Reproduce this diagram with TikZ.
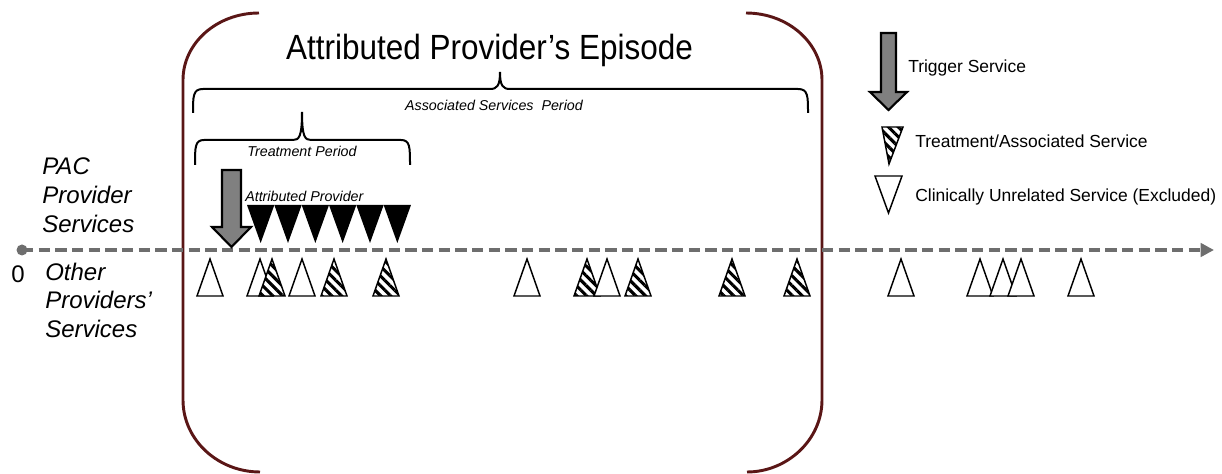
\documentclass[tikz,border=0pt]{standalone}
\usepackage{fontspec}
\setmainfont{Liberation Sans}
\newfontfamily\titlefont[FakeStretch=0.9]{Liberation Sans}
\usetikzlibrary{arrows.meta,patterns.meta}
\definecolor{maroon}{HTML}{5A1616}
\definecolor{axisgray}{HTML}{6E6E6E}
\definecolor{arrowgray}{HTML}{808080}
\tikzset{
  episode/.style={draw=maroon,line width=2.2pt},
  brace/.style={draw=black,line width=1.5pt},
  tri/.style={draw=black,line width=1.1pt,line join=miter},
  hatchtri/.style={tri,preaction={fill=white},pattern={Lines[angle=-45,distance=5.2pt,line width=2.3pt]},pattern color=black},
  blockarrow/.style={draw=black,line width=1.6pt,fill=arrowgray,line join=miter},
  legendtxt/.style={font=\fontsize{13.1pt}{15pt}\selectfont,anchor=base west,inner sep=0pt},
  smallit/.style={font=\fontsize{10.7pt}{12pt}\selectfont\itshape,inner sep=0pt},
  sidelbl/.style={font=\fontsize{18pt}{21.75pt}\selectfont\itshape,align=left,anchor=base west,inner sep=0pt},
}
\newcommand\WhiteTri[1]{\draw[tri,fill=white] (#1-13,296) -- (#1,259) -- (#1+13,296) -- cycle;}
\newcommand\HatchTri[1]{\path[hatchtri] (#1-13,296) -- (#1,259) -- (#1+13,296) -- cycle;}
\begin{document}
\begin{tikzpicture}[x=0.75pt,y=-0.75pt]
\useasboundingbox (0,0) rectangle (1222,474);

% episode bracket
\draw[episode] (259,13) .. controls (217,13) and (183,43) .. (183,80) -- (183,400) .. controls (183,440) and (218,472) .. (260,472);
\draw[episode] (746,13) .. controls (788,13) and (822,43) .. (822,80) -- (822,400) .. controls (822,440) and (787,472) .. (747,472);

\node[font=\titlefont\fontsize{26.25pt}{30pt}\selectfont,anchor=base,inner sep=0pt] (title) at (489.5,60) {Attributed Provider’s Episode};

% associated services brace
\draw[brace] (193,113) .. controls (193,96) and (193,89) .. (203,89) -- (490,89) .. controls (497,89) and (500,86) .. (500,72) .. controls (500,86) and (503,89) .. (510,89) -- (798,89) .. controls (808,89) and (808,96) .. (808,113);
\node[smallit,anchor=base] (asp) at (494,111) {Associated Services\ \ Period};

% treatment brace
\draw[brace] (195,165) .. controls (195,147) and (195,140) .. (204,140) -- (293,140) .. controls (299,140) and (302,137) .. (302,112) .. controls (302,137) and (305,140) .. (311,140) -- (401,140) .. controls (410,140) and (410,147) .. (410,165);
\node[smallit,anchor=base] (tp) at (302,157) {Treatment Period};

% side labels
\node[sidelbl] (pac) at (42,233) {PAC\\Provider\\Services};
\node[sidelbl] (other) at (45,338) {Other\\Providers’\\Services};
\node[font=\fontsize{18pt}{20pt}\selectfont,anchor=base west,inner sep=0pt] (zero) at (11,282) {0};

% axis
\coordinate (axstart) at (22,250);
\coordinate (axend) at (1214,250);
\draw[axisgray,line width=3pt,dash pattern=on 8.5pt off 4pt,-{Triangle[length=10pt,width=10pt]}] (axstart) -- (axend);
\fill[axisgray] (axstart) circle (5.5);

% attributed provider services
\node[smallit,anchor=base west] (ap) at (245,202) {Attributed Provider};
\foreach \i in {0,...,5}{
  \fill[black] ({247+27.33*\i},205) -- ({247+27.33*(\i+1)},205) -- ({247+27.33*\i+13.67},243) -- cycle;
}

% trigger arrow
\draw[blockarrow] (222,170) -- (241,170) -- (241,227) -- (251,227) -- (231.5,247) -- (212,227) -- (222,227) -- cycle;

% other providers' services
\WhiteTri{210}
\WhiteTri{260}
\HatchTri{272}
\WhiteTri{302}
\HatchTri{334}
\HatchTri{386}
\WhiteTri{527}
\HatchTri{587}
\WhiteTri{607}
\HatchTri{638}
\HatchTri{732}
\HatchTri{797}
\WhiteTri{901}
\WhiteTri{980}
\WhiteTri{1003}
\WhiteTri{1021}
\WhiteTri{1081}

% legend
\draw[blockarrow] (881,33) -- (896,33) -- (896,92) -- (907,92) -- (888.5,110) -- (870,92) -- (881,92) -- cycle;
\node[legendtxt] (lg1) at (908,73) {Trigger Service};
\path[hatchtri] (882,127) -- (903,127) -- (889,164) -- cycle;
\node[legendtxt] (lg2) at (915,148) {Treatment/Associated Service};
\draw[tri,fill=white] (875,176) -- (902,176) -- (888.5,213) -- cycle;
\node[legendtxt] (lg3) at (915,202) {Clinically Unrelated Service (Excluded)};
\end{tikzpicture}
\end{document}
